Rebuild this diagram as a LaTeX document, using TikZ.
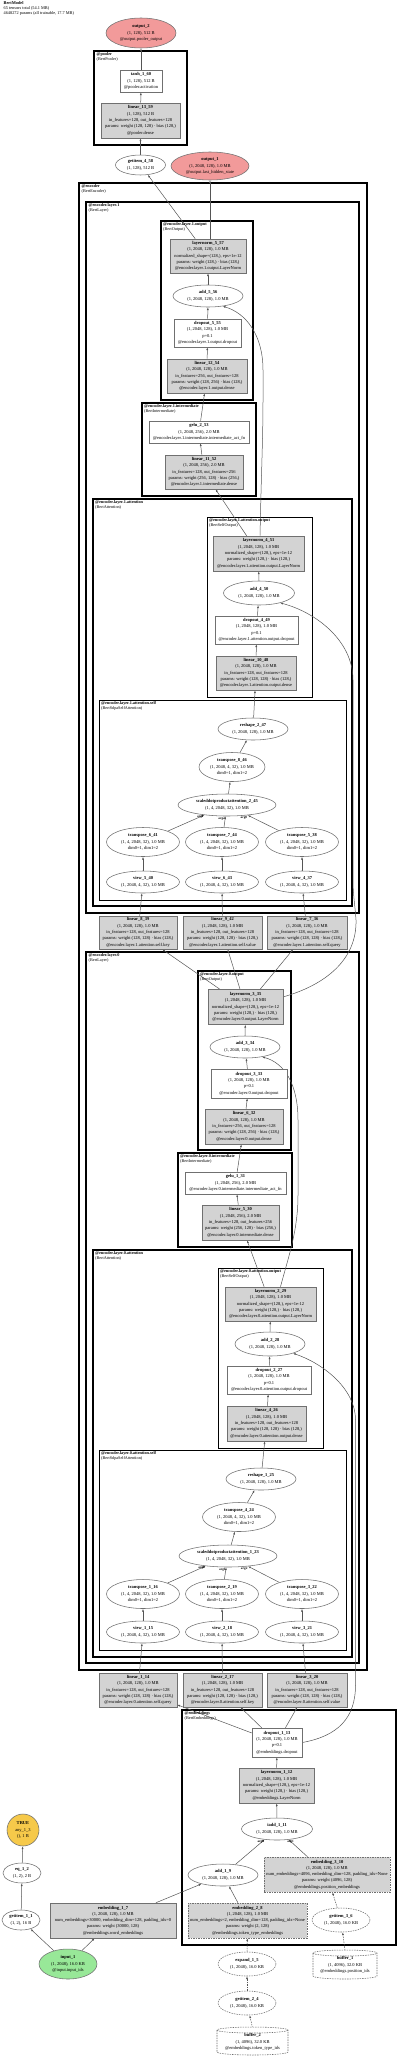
\documentclass[tikz,border=0pt]{standalone}
\usepackage{fontspec}
\setmainfont{Liberation Serif}
\usetikzlibrary{arrows.meta,calc,shapes.geometric}
\pgfdeclarelayer{bg}\pgfdeclarelayer{edgelayer}
\pgfsetlayers{bg,edgelayer,main}
\definecolor{pgray}{HTML}{D3D3D3}
\definecolor{cOut}{HTML}{F29A9A}
\definecolor{cIn}{HTML}{98E898}
\definecolor{cTrue}{HTML}{F6C94A}
\definecolor{cNode}{HTML}{707070}
\definecolor{cEdge}{HTML}{555555}
\newcommand{\Z}[1]{\makebox[0pt]{#1}}
\newcommand{\ZB}[1]{\makebox[0pt]{\textbf{#1}}}
\newcommand{\nf}{\fontsize{4.5}{6.3}\selectfont}
\tikzset{
 base/.style={inner sep=0pt, align=center, font=\nf},
 sz/.style 2 args={minimum width=#1, minimum height=#2},
 pbox/.style={base, rectangle, draw=cNode, fill=pgray, line width=0.55pt},
 wbox/.style={base, rectangle, draw=cNode, fill=white, line width=0.55pt},
 oval/.style={base, ellipse, draw=cNode, fill=white, line width=0.55pt},
 dsh/.style={dash pattern=on 1.5pt off 1pt},
 edge/.style={draw=cEdge, line width=0.5pt, -{Latex[length=2.8pt,width=2pt]}},
 elab/.style={font=\fontsize{3.3}{3.5}\selectfont\bfseries, inner sep=0.4pt, text=black},
 clab/.style={anchor=north west, align=left, inner sep=0pt, font=\fontsize{4.2}{4.7}\selectfont},
 clA/.style={draw=black, line width=2pt},
 clB/.style={draw=black, line width=1.5pt},
 clC/.style={draw=black, line width=1.1pt},
 clD/.style={draw=black, line width=0.8pt},
}
\begin{document}
\begin{tikzpicture}[x=1pt,y=-1pt]
\useasboundingbox (0,0) rectangle (400,2058);

% title
\node[clab, font=\fontsize{4.3}{5}\selectfont] (title) at (3.5,1.5) {\textbf{BertModel}\\65 tensors total (54.1 MB)\\4648272 params (all trainable, 17.7 MB)};

% clusters
\begin{pgfonlayer}{bg}
\draw[clB] (94,51) rectangle (187,145);
\draw[clA] (79,183) rectangle (367,1670);
\draw[clB] (86,202) rectangle (359,913);
\draw[clC] (161,221) rectangle (253,400);
\draw[clC] (142,403) rectangle (256,496);
\draw[clC] (93,499) rectangle (352,906);
\draw[clD] (207,517) rectangle (312,697);
\draw[clD] (99,700) rectangle (346,900);
\draw[clB] (86,952) rectangle (359,1663);
\draw[clC] (198,971) rectangle (291,1150);
\draw[clC] (178,1153) rectangle (292,1247);
\draw[clC] (93,1250) rectangle (352,1657);
\draw[clD] (218,1268) rectangle (323,1448);
\draw[clD] (99,1450) rectangle (346,1650);
\draw[clB] (182,1710) rectangle (396,1945);
\end{pgfonlayer}
\node[clab] (c_pooler) at (96.5,52.5) {\textbf{@pooler}\\(BertPooler)};
\node[clab] (c_enc) at (81.5,184.5) {\textbf{@encoder}\\(BertEncoder)};
\node[clab] (c_l1) at (88.5,203.5) {\textbf{@encoder.layer.1}\\(BertLayer)};
\node[clab] (c_l1o) at (163,222.5) {\textbf{@encoder.layer.1.output}\\(BertOutput)};
\node[clab] (c_l1i) at (144,404.5) {\textbf{@encoder.layer.1.intermediate}\\(BertIntermediate)};
\node[clab] (c_l1a) at (95,500.5) {\textbf{@encoder.layer.1.attention}\\(BertAttention)};
\node[clab] (c_l1ao) at (209,518.5) {\textbf{@encoder.layer.1.attention.output}\\(BertSelfOutput)};
\node[clab] (c_l1as) at (101,701.5) {\textbf{@encoder.layer.1.attention.self}\\(BertSdpaSelfAttention)};
\node[clab] (c_l0) at (88.5,953.5) {\textbf{@encoder.layer.0}\\(BertLayer)};
\node[clab] (c_l0o) at (200,972.5) {\textbf{@encoder.layer.0.output}\\(BertOutput)};
\node[clab] (c_l0i) at (180,1154.5) {\textbf{@encoder.layer.0.intermediate}\\(BertIntermediate)};
\node[clab] (c_l0a) at (95,1251.5) {\textbf{@encoder.layer.0.attention}\\(BertAttention)};
\node[clab] (c_l0ao) at (220,1269.5) {\textbf{@encoder.layer.0.attention.output}\\(BertSelfOutput)};
\node[clab] (c_l0as) at (101,1451.5) {\textbf{@encoder.layer.0.attention.self}\\(BertSdpaSelfAttention)};
\node[clab] (c_emb) at (184.5,1711.5) {\textbf{@embeddings}\\(BertEmbeddings)};

% pooler and outputs
\node[oval, fill=cOut, sz={70}{30}] (output_2) at (141,33) {\ZB{output\_2}\\\Z{(1, 128), 512 B}\\\Z{@output.pooler\_output}};
\node[wbox, sz={42}{22}] (tanh_1_60) at (141,81) {\ZB{tanh\_1\_60}\\\Z{(1, 128), 512 B}\\\Z{@pooler.activation}};
\node[pbox, sz={79}{35}] (linear_13_59) at (140.5,120.5) {\ZB{linear\_13\_59}\\\Z{(1, 128), 512 B}\\\Z{in\_features=128, out\_features=128}\\\Z{params: weight (128, 128) · bias (128,)}\\\Z{@pooler.dense}};
\node[oval, sz={50}{20}] (getitem_4_58) at (140.5,165) {\ZB{getitem\_4\_58}\\\Z{(1, 128), 512 B}};
\node[oval, fill=cOut, sz={78}{28}] (output_1) at (210,166) {\ZB{output\_1}\\\Z{(1, 2048, 128), 1.0 MB}\\\Z{@output.last\_hidden\_state}};

% layer 1
\node[pbox, sz={76}{34}] (layernorm_5_57) at (208,256) {\ZB{layernorm\_5\_57}\\\Z{(1, 2048, 128), 1.0 MB}\\\Z{normalized\_shape=(128,), eps=1e-12}\\\Z{params: weight (128,) · bias (128,)}\\\Z{@encoder.layer.1.output.LayerNorm}};
\node[oval, sz={70}{22}] (add_5_56) at (208,296) {\ZB{add\_5\_56}\\\Z{(1, 2048, 128), 1.0 MB}};
\node[wbox, sz={67}{28}] (dropout_5_55) at (207.5,333) {\ZB{dropout\_5\_55}\\\Z{(1, 2048, 128), 1.0 MB}\\\Z{p=0.1}\\\Z{@encoder.layer.1.output.dropout}};
\node[pbox, sz={80}{34}] (linear_12_54) at (207,376) {\ZB{linear\_12\_54}\\\Z{(1, 2048, 128), 1.0 MB}\\\Z{in\_features=256, out\_features=128}\\\Z{params: weight (128, 256) · bias (128,)}\\\Z{@encoder.layer.1.output.dense}};
\node[wbox, sz={100}{22}] (gelu_2_53) at (199,432) {\ZB{gelu\_2\_53}\\\Z{(1, 2048, 256), 2.0 MB}\\\Z{@encoder.layer.1.intermediate.intermediate\_act\_fn}};
\node[pbox, sz={78}{34}] (linear_11_52) at (204,472) {\ZB{linear\_11\_52}\\\Z{(1, 2048, 256), 2.0 MB}\\\Z{in\_features=128, out\_features=256}\\\Z{params: weight (256, 128) · bias (256,)}\\\Z{@encoder.layer.1.intermediate.dense}};
\node[pbox, sz={91}{35}] (layernorm_4_51) at (258.5,553.5) {\ZB{layernorm\_4\_51}\\\Z{(1, 2048, 128), 1.0 MB}\\\Z{normalized\_shape=(128,), eps=1e-12}\\\Z{params: weight (128,) · bias (128,)}\\\Z{@encoder.layer.1.attention.output.LayerNorm}};
\node[oval, sz={71}{24}] (add_4_50) at (259,593) {\ZB{add\_4\_50}\\\Z{(1, 2048, 128), 1.0 MB}};
\node[wbox, sz={83}{28}] (dropout_4_49) at (256.5,630) {\ZB{dropout\_4\_49}\\\Z{(1, 2048, 128), 1.0 MB}\\\Z{p=0.1}\\\Z{@encoder.layer.1.attention.output.dropout}};
\node[pbox, sz={80}{34}] (linear_10_48) at (256,673) {\ZB{linear\_10\_48}\\\Z{(1, 2048, 128), 1.0 MB}\\\Z{in\_features=128, out\_features=128}\\\Z{params: weight (128, 128) · bias (128,)}\\\Z{@encoder.layer.1.attention.output.dense}};
\node[oval, sz={70}{22}] (reshape_2_47) at (253,729) {\ZB{reshape\_2\_47}\\\Z{(1, 2048, 128), 1.0 MB}};
\node[oval, sz={66}{29}] (transpose_8_46) at (232,767) {\ZB{transpose\_8\_46}\\\Z{(1, 2048, 4, 32), 1.0 MB}\\\Z{dim0=1, dim1=2}};
\node[oval, sz={98}{22}] (sdpa_2_45) at (227,805) {\ZB{scaleddotproductattention\_2\_45}\\\Z{(1, 4, 2048, 32), 1.0 MB}};
\node[oval, sz={73}{29}] (transpose_6_41) at (143,842) {\ZB{transpose\_6\_41}\\\Z{(1, 4, 2048, 32), 1.0 MB}\\\Z{dim0=1, dim1=2}};
\node[oval, sz={73}{29}] (transpose_7_44) at (222,842) {\ZB{transpose\_7\_44}\\\Z{(1, 4, 2048, 32), 1.0 MB}\\\Z{dim0=1, dim1=2}};
\node[oval, sz={73}{29}] (transpose_5_38) at (302,842) {\ZB{transpose\_5\_38}\\\Z{(1, 4, 2048, 32), 1.0 MB}\\\Z{dim0=1, dim1=2}};
\node[oval, sz={73}{22}] (view_5_40) at (143,882) {\ZB{view\_5\_40}\\\Z{(1, 2048, 4, 32), 1.0 MB}};
\node[oval, sz={73}{22}] (view_6_43) at (222,882) {\ZB{view\_6\_43}\\\Z{(1, 2048, 4, 32), 1.0 MB}};
\node[oval, sz={73}{22}] (view_4_37) at (302,882) {\ZB{view\_4\_37}\\\Z{(1, 2048, 4, 32), 1.0 MB}};
\node[pbox, sz={78}{33}] (linear_8_39) at (138,932.5) {\ZB{linear\_8\_39}\\\Z{(1, 2048, 128), 1.0 MB}\\\Z{in\_features=128, out\_features=128}\\\Z{params: weight (128, 128) · bias (128,)}\\\Z{@encoder.layer.1.attention.self.key}};
\node[pbox, sz={79}{33}] (linear_9_42) at (222.5,932.5) {\ZB{linear\_9\_42}\\\Z{(1, 2048, 128), 1.0 MB}\\\Z{in\_features=128, out\_features=128}\\\Z{params: weight (128, 128) · bias (128,)}\\\Z{@encoder.layer.1.attention.self.value}};
\node[pbox, sz={80}{33}] (linear_7_36) at (307,932.5) {\ZB{linear\_7\_36}\\\Z{(1, 2048, 128), 1.0 MB}\\\Z{in\_features=128, out\_features=128}\\\Z{params: weight (128, 128) · bias (128,)}\\\Z{@encoder.layer.1.attention.self.query}};

% layer 0
\node[pbox, sz={75}{35}] (layernorm_3_35) at (245.5,1007) {\ZB{layernorm\_3\_35}\\\Z{(1, 2048, 128), 1.0 MB}\\\Z{normalized\_shape=(128,), eps=1e-12}\\\Z{params: weight (128,) · bias (128,)}\\\Z{@encoder.layer.0.output.LayerNorm}};
\node[oval, sz={70}{22}] (add_3_34) at (245,1047) {\ZB{add\_3\_34}\\\Z{(1, 2048, 128), 1.0 MB}};
\node[wbox, sz={76}{29}] (dropout_3_33) at (249,1083.5) {\ZB{dropout\_3\_33}\\\Z{(1, 2048, 128), 1.0 MB}\\\Z{p=0.1}\\\Z{@encoder.layer.0.output.dropout}};
\node[pbox, sz={78}{35}] (linear_6_32) at (244,1126.5) {\ZB{linear\_6\_32}\\\Z{(1, 2048, 128), 1.0 MB}\\\Z{in\_features=256, out\_features=128}\\\Z{params: weight (128, 256) · bias (128,)}\\\Z{@encoder.layer.0.output.dense}};
\node[wbox, sz={101}{22}] (gelu_1_31) at (235.5,1183) {\ZB{gelu\_1\_31}\\\Z{(1, 2048, 256), 2.0 MB}\\\Z{@encoder.layer.0.intermediate.intermediate\_act\_fn}};
\node[pbox, sz={77}{35}] (linear_5_30) at (240.5,1222.5) {\ZB{linear\_5\_30}\\\Z{(1, 2048, 256), 2.0 MB}\\\Z{in\_features=128, out\_features=256}\\\Z{params: weight (256, 128) · bias (256,)}\\\Z{@encoder.layer.0.intermediate.dense}};
\node[pbox, sz={91}{34}] (layernorm_2_29) at (270.5,1304) {\ZB{layernorm\_2\_29}\\\Z{(1, 2048, 128), 1.0 MB}\\\Z{normalized\_shape=(128,), eps=1e-12}\\\Z{params: weight (128,) · bias (128,)}\\\Z{@encoder.layer.0.attention.output.LayerNorm}};
\node[oval, sz={70}{24}] (add_2_28) at (270,1344) {\ZB{add\_2\_28}\\\Z{(1, 2048, 128), 1.0 MB}};
\node[wbox, sz={84}{28}] (dropout_2_27) at (269,1380) {\ZB{dropout\_2\_27}\\\Z{(1, 2048, 128), 1.0 MB}\\\Z{p=0.1}\\\Z{@encoder.layer.0.attention.output.dropout}};
\node[pbox, sz={79}{35}] (linear_4_26) at (266.5,1423.5) {\ZB{linear\_4\_26}\\\Z{(1, 2048, 128), 1.0 MB}\\\Z{in\_features=128, out\_features=128}\\\Z{params: weight (128, 128) · bias (128,)}\\\Z{@encoder.layer.0.attention.output.dense}};
\node[oval, sz={70}{22}] (reshape_1_25) at (261,1479) {\ZB{reshape\_1\_25}\\\Z{(1, 2048, 128), 1.0 MB}};
\node[oval, sz={73}{29}] (transpose_4_24) at (239,1517) {\ZB{transpose\_4\_24}\\\Z{(1, 2048, 4, 32), 1.0 MB}\\\Z{dim0=1, dim1=2}};
\node[oval, sz={98}{22}] (sdpa_1_23) at (228,1556) {\ZB{scaleddotproductattention\_1\_23}\\\Z{(1, 4, 2048, 32), 1.0 MB}};
\node[oval, sz={73}{29}] (transpose_1_16) at (143,1594) {\ZB{transpose\_1\_16}\\\Z{(1, 4, 2048, 32), 1.0 MB}\\\Z{dim0=1, dim1=2}};
\node[oval, sz={73}{29}] (transpose_2_19) at (222,1594) {\ZB{transpose\_2\_19}\\\Z{(1, 4, 2048, 32), 1.0 MB}\\\Z{dim0=1, dim1=2}};
\node[oval, sz={73}{29}] (transpose_3_22) at (302,1594) {\ZB{transpose\_3\_22}\\\Z{(1, 4, 2048, 32), 1.0 MB}\\\Z{dim0=1, dim1=2}};
\node[oval, sz={73}{22}] (view_1_15) at (143,1632) {\ZB{view\_1\_15}\\\Z{(1, 2048, 4, 32), 1.0 MB}};
\node[oval, sz={73}{22}] (view_2_18) at (222,1632) {\ZB{view\_2\_18}\\\Z{(1, 2048, 4, 32), 1.0 MB}};
\node[oval, sz={73}{22}] (view_3_21) at (302,1632) {\ZB{view\_3\_21}\\\Z{(1, 2048, 4, 32), 1.0 MB}};
\node[pbox, sz={78}{34}] (linear_1_14) at (138,1690) {\ZB{linear\_1\_14}\\\Z{(1, 2048, 128), 1.0 MB}\\\Z{in\_features=128, out\_features=128}\\\Z{params: weight (128, 128) · bias (128,)}\\\Z{@encoder.layer.0.attention.self.query}};
\node[pbox, sz={79}{34}] (linear_2_17) at (222.5,1690) {\ZB{linear\_2\_17}\\\Z{(1, 2048, 128), 1.0 MB}\\\Z{in\_features=128, out\_features=128}\\\Z{params: weight (128, 128) · bias (128,)}\\\Z{@encoder.layer.0.attention.self.key}};
\node[pbox, sz={80}{34}] (linear_3_20) at (307,1690) {\ZB{linear\_3\_20}\\\Z{(1, 2048, 128), 1.0 MB}\\\Z{in\_features=128, out\_features=128}\\\Z{params: weight (128, 128) · bias (128,)}\\\Z{@encoder.layer.0.attention.self.value}};

% embeddings
\node[wbox, sz={50}{29}] (dropout_1_13) at (277,1742.5) {\ZB{dropout\_1\_13}\\\Z{(1, 2048, 128), 1.0 MB}\\\Z{p=0.1}\\\Z{@embeddings.dropout}};
\node[pbox, sz={75}{35}] (layernorm_1_12) at (276.5,1785.5) {\ZB{layernorm\_1\_12}\\\Z{(1, 2048, 128), 1.0 MB}\\\Z{normalized\_shape=(128,), eps=1e-12}\\\Z{params: weight (128,) · bias (128,)}\\\Z{@embeddings.LayerNorm}};
\node[oval, sz={71}{22}] (iadd_1_11) at (277,1829) {\ZB{iadd\_1\_11}\\\Z{(1, 2048, 128), 1.0 MB}};
\node[pbox, dsh, sz={126}{35}] (embedding_3_10) at (327,1874.5) {\ZB{embedding\_3\_10}\\\Z{(1, 2048, 128), 1.0 MB}\\\Z{num\_embeddings=4096, embedding\_dim=128, padding\_idx=None}\\\Z{params: weight (4096, 128)}\\\Z{@embeddings.position\_embeddings}};
\node[oval, sz={70}{22}] (add_1_9) at (223,1875) {\ZB{add\_1\_9}\\\Z{(1, 2048, 128), 1.0 MB}};
\node[pbox, sz={126}{35}] (embedding_1_7) at (113,1920.5) {\ZB{embedding\_1\_7}\\\Z{(1, 2048, 128), 1.0 MB}\\\Z{num\_embeddings=30000, embedding\_dim=128, padding\_idx=0}\\\Z{params: weight (30000, 128)}\\\Z{@embeddings.word\_embeddings}};
\node[pbox, dsh, sz={119}{35}] (embedding_2_8) at (247.5,1920.5) {\ZB{embedding\_2\_8}\\\Z{(1, 2048, 128), 1.0 MB}\\\Z{num\_embeddings=2, embedding\_dim=128, padding\_idx=None}\\\Z{params: weight (2, 128)}\\\Z{@embeddings.token\_type\_embeddings}};
\node[oval, dsh, sz={58}{24}] (getitem_3_6) at (341,1920) {\ZB{getitem\_3\_6}\\\Z{(1, 2048), 16.0 KB}};
\node[base, circle, draw=cNode, fill=cTrue, line width=0.55pt, minimum size=32] (any_1_3) at (23,1830) {\ZB{TRUE}\\\Z{any\_1\_3}\\\Z{(), 1 B}};
\node[oval, sz={38}{20}] (eq_1_2) at (22,1873) {\ZB{eq\_1\_2}\\\Z{(1, 2), 2 B}};
\node[oval, sz={38}{20}] (getitem_1_1) at (21,1920) {\ZB{getitem\_1\_1}\\\Z{(1, 2), 16 B}};
\node[oval, fill=cIn, sz={58}{30}] (input_1) at (68,1964) {\ZB{input\_1}\\\Z{(1, 2048), 16.0 KB}\\\Z{@input.input\_ids}};
\node[oval, dsh, sz={58}{24}] (expand_1_5) at (247,1964) {\ZB{expand\_1\_5}\\\Z{(1, 2048), 16.0 KB}};
\node[oval, dsh, sz={58}{24}] (getitem_2_4) at (247,2003) {\ZB{getitem\_2\_4}\\\Z{(1, 2048), 16.0 KB}};
% buffers (cylinders)
\draw[draw=cNode, line width=0.55pt, dsh, fill=white] (313,1953) -- (313,1976) arc[start angle=180,end angle=360,x radius=32pt,y radius=3pt] -- (377,1953) arc[start angle=0,end angle=180,x radius=32pt,y radius=3pt] -- cycle;
\draw[draw=cNode, line width=0.55pt, dsh] (313,1953) arc[start angle=180,end angle=360,x radius=32pt,y radius=3pt];
\node[base, rectangle, sz={64}{29}] (buffer_1) at (345,1965) {\ZB{buffer\_1}\\\Z{(1, 4096), 32.0 KB}\\\Z{@embeddings.position\_ids}};
\draw[draw=cNode, line width=0.55pt, dsh, fill=white] (217,2030) -- (217,2052) arc[start angle=180,end angle=360,x radius=35.5pt,y radius=3pt] -- (288,2030) arc[start angle=0,end angle=180,x radius=35.5pt,y radius=3pt] -- cycle;
\draw[draw=cNode, line width=0.55pt, dsh] (217,2030) arc[start angle=180,end angle=360,x radius=35.5pt,y radius=3pt];
\node[base, rectangle, sz={71}{28}] (buffer_2) at (252.5,2042) {\ZB{buffer\_2}\\\Z{(1, 4096), 32.0 KB}\\\Z{@embeddings.token\_type\_ids}};

% edges
\begin{pgfonlayer}{edgelayer}
\draw[edge] (getitem_4_58) -- (linear_13_59);
\draw[edge] (linear_13_59) -- (tanh_1_60);
\draw[edge] (tanh_1_60) -- (output_2);
\draw[edge] (layernorm_5_57) -- (getitem_4_58);
\draw[edge] (layernorm_5_57.north -| output_1.south) -- (output_1.south);
\draw[edge] (add_5_56) -- (layernorm_5_57);
\draw[edge] (dropout_5_55) -- (add_5_56);
\draw[edge] (linear_12_54) -- (dropout_5_55);
\draw[edge] (gelu_2_53) -- (linear_12_54);
\draw[edge] (linear_11_52) -- (gelu_2_53);
\draw[edge] (layernorm_4_51) -- (linear_11_52);
\draw[edge] (layernorm_4_51.85) .. controls (261,480) and (263,440) .. (263,400) -- (263,370) .. controls (263,335) and (246,313) .. (add_5_56.-35);
\draw[edge] (add_4_50) -- (layernorm_4_51);
\draw[edge] (dropout_4_49) -- (add_4_50);
\draw[edge] (linear_10_48) -- (dropout_4_49);
\draw[edge] (reshape_2_47) -- (linear_10_48);
\draw[edge] (transpose_8_46) -- (reshape_2_47);
\draw[edge] (sdpa_2_45) -- (transpose_8_46);
\draw[edge] (transpose_6_41) -- (sdpa_2_45) node[elab, pos=1, anchor=north east] {arg1};
\draw[edge] (transpose_7_44) -- (sdpa_2_45) node[elab, pos=1, anchor=north east] {arg2};
\draw[edge] (transpose_5_38) -- (sdpa_2_45) node[elab, pos=1, anchor=north east] {arg0};
\draw[edge] (view_5_40) -- (transpose_6_41);
\draw[edge] (view_6_43) -- (transpose_7_44);
\draw[edge] (view_4_37) -- (transpose_5_38);
\draw[edge] (linear_8_39) -- (view_5_40);
\draw[edge] (linear_9_42) -- (view_6_43);
\draw[edge] (linear_7_36) -- (view_4_37);
\draw[edge] (layernorm_3_35) -- (linear_8_39);
\draw[edge] (layernorm_3_35) -- (linear_9_42);
\draw[edge] (layernorm_3_35) -- (linear_7_36);
\draw[edge] (layernorm_3_35.15) .. controls (325,985) and (357,960) .. (356,920) .. controls (355,905) and (353,895) .. (353,880) -- (353,680) .. controls (353,640) and (315,612) .. (add_4_50.-25);
\draw[edge] (add_3_34) -- (layernorm_3_35);
\draw[edge] (dropout_3_33) -- (add_3_34);
\draw[edge] (linear_6_32) -- (dropout_3_33);
\draw[edge] (gelu_1_31) -- (linear_6_32);
\draw[edge] (linear_5_30) -- (gelu_1_31);
\draw[edge] (layernorm_2_29) -- (linear_5_30);
\draw[edge] (layernorm_2_29.60) .. controls (289,1255) and (298,1230) .. (298,1195) -- (298,1120) .. controls (298,1085) and (285,1063) .. (add_3_34.-30);
\draw[edge] (add_2_28) -- (layernorm_2_29);
\draw[edge] (dropout_2_27) -- (add_2_28);
\draw[edge] (linear_4_26) -- (dropout_2_27);
\draw[edge] (reshape_1_25) -- (linear_4_26);
\draw[edge] (transpose_4_24) -- (reshape_1_25);
\draw[edge] (sdpa_1_23) -- (transpose_4_24);
\draw[edge] (transpose_1_16) -- (sdpa_1_23) node[elab, pos=1, anchor=north east] {arg0};
\draw[edge] (transpose_2_19) -- (sdpa_1_23) node[elab, pos=1, anchor=north east] {arg1};
\draw[edge] (transpose_3_22) -- (sdpa_1_23) node[elab, pos=1, anchor=north east] {arg2};
\draw[edge] (view_1_15) -- (transpose_1_16);
\draw[edge] (view_2_18) -- (transpose_2_19);
\draw[edge] (view_3_21) -- (transpose_3_22);
\draw[edge] (linear_1_14) -- (view_1_15);
\draw[edge] (linear_2_17) -- (view_2_18);
\draw[edge] (linear_3_20) -- (view_3_21);
\draw[edge] (dropout_1_13) -- (linear_1_14);
\draw[edge] (dropout_1_13) -- (linear_2_17);
\draw[edge] (dropout_1_13) -- (linear_3_20);
\draw[edge] (dropout_1_13.east) .. controls (338,1736) and (355.5,1718) .. (355.5,1685) -- (355.5,1420) .. controls (355.5,1388) and (322,1363) .. (add_2_28.-22);
\draw[edge] (layernorm_1_12) -- (dropout_1_13);
\draw[edge] (iadd_1_11) -- (layernorm_1_12);
\draw[edge] (add_1_9) -- (iadd_1_11) node[elab, pos=1, anchor=north east] {arg0};
\draw[edge] (embedding_3_10) -- (iadd_1_11) node[elab, pos=1, anchor=north west, xshift=-2pt] {arg1};
\draw[edge] (embedding_1_7) -- (add_1_9);
\draw[edge] (embedding_2_8) -- (add_1_9);
\draw[edge, dsh] (expand_1_5) -- (embedding_2_8);
\draw[edge, dsh] (getitem_2_4) -- (expand_1_5);
\draw[edge, dsh] (buffer_2.north) -- (getitem_2_4);
\draw[edge, dsh] (buffer_1.north) -- (getitem_3_6);
\draw[edge, dsh] (getitem_3_6) -- (embedding_3_10);
\draw[edge] (input_1) -- (getitem_1_1);
\draw[edge] (input_1) -- (embedding_1_7);
\draw[edge] (getitem_1_1) -- (eq_1_2);
\draw[edge] (eq_1_2) -- (any_1_3);
\end{pgfonlayer}
\end{tikzpicture}
\end{document}
